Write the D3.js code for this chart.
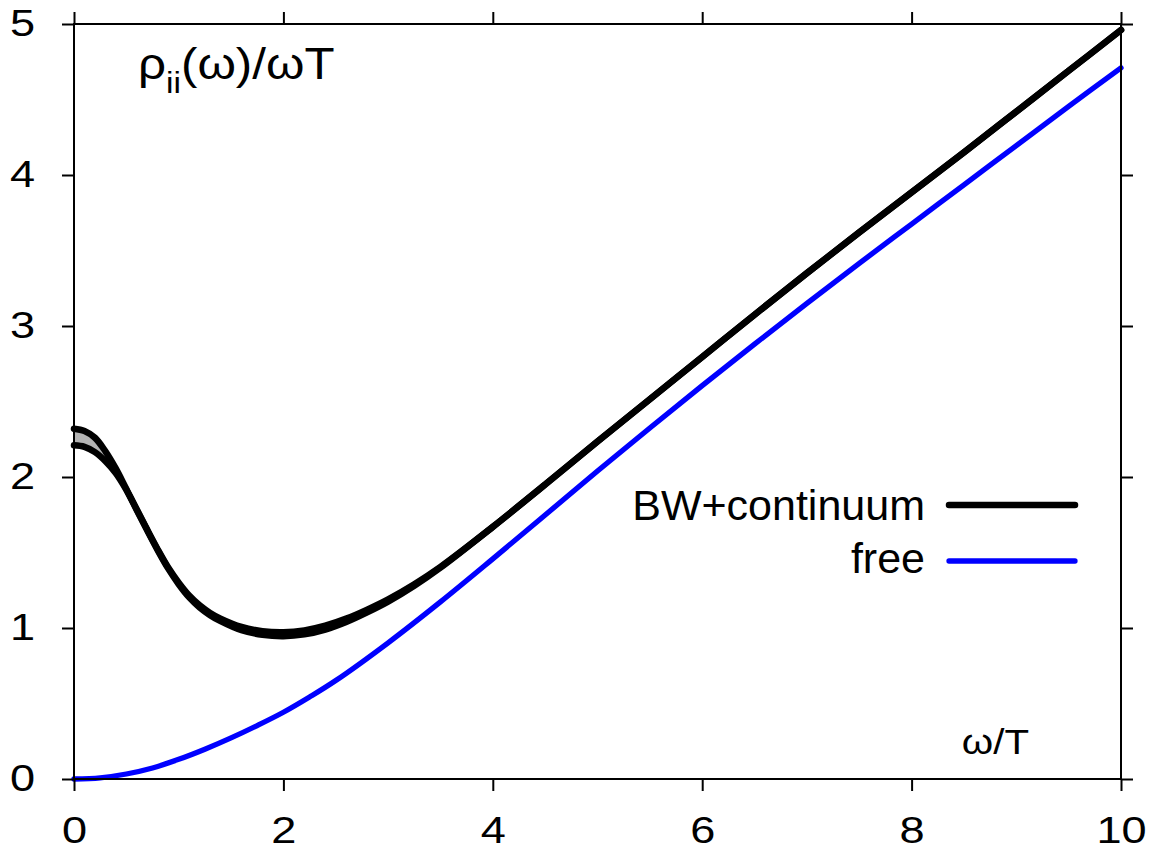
<!DOCTYPE html>
<html>
<head>
<meta charset="utf-8">
<script src="https://cdn.jsdelivr.net/npm/d3@7"></script>
<style>
  html, body { margin: 0; padding: 0; background: #fff; }
  svg { display: block; }
  text { font-family: "Liberation Sans", Arial, sans-serif; fill: #000; }
</style>
</head>
<body>
<svg id="chart" width="1151" height="851"></svg>
<script>
// ---- data ----
const bwX     = [0, 0.1, 0.2, 0.3, 0.4, 0.5, 0.6, 0.7, 0.8, 0.9, 1.0, 1.1, 1.2, 1.3, 1.4, 1.6, 1.8, 2.0, 2.2, 2.4, 2.6, 2.8, 3.0, 3.25, 3.5, 4.0, 4.5, 5.0, 5.5, 6.0, 6.5, 7.0, 7.5, 8.0, 8.5, 9.0, 9.5, 10];
const bwUpper = [2.32, 2.305, 2.26, 2.17, 2.055, 1.92, 1.785, 1.65, 1.52, 1.40, 1.30, 1.215, 1.15, 1.10, 1.062, 1.007, 0.979, 0.972, 0.984, 1.015, 1.062, 1.122, 1.19, 1.29, 1.405, 1.67, 1.95, 2.235, 2.515, 2.795, 3.075, 3.35, 3.62, 3.885, 4.15, 4.42, 4.69, 4.96];
const bwLower = [2.21, 2.20, 2.165, 2.105, 2.025, 1.915, 1.78, 1.645, 1.514, 1.393, 1.29, 1.203, 1.136, 1.085, 1.045, 0.985, 0.955, 0.946, 0.958, 0.99, 1.04, 1.104, 1.175, 1.28, 1.40, 1.67, 1.95, 2.235, 2.515, 2.795, 3.075, 3.35, 3.62, 3.885, 4.15, 4.42, 4.69, 4.96];
const freeX   = [0, 0.25, 0.5, 0.75, 1.0, 1.25, 1.5, 1.75, 2.0, 2.25, 2.5, 3.0, 3.5, 4.0, 4.5, 5.0, 5.5, 6.0, 6.5, 7.0, 7.5, 8.0, 8.5, 9.0, 9.5, 10];
const freeY   = [0, 0.008, 0.033, 0.073, 0.13, 0.197, 0.272, 0.354, 0.442, 0.543, 0.652, 0.902, 1.173, 1.458, 1.748, 2.04, 2.325, 2.605, 2.88, 3.15, 3.415, 3.675, 3.935, 4.195, 4.455, 4.71];
const xTicks  = [0, 2, 4, 6, 8, 10];
const yTicks  = [0, 1, 2, 3, 4, 5];
const seriesNames = ["BW+continuum", "free"];
const seriesColors = ["#000000", "#0000ff"];

// ---- layout ----
const svg = d3.select("#chart");
const L = 74, R = 1121, T = 24, B = 779;
const x = d3.scaleLinear().domain([0, 10]).range([L, R]);
const y = d3.scaleLinear().domain([0, 5]).range([B, T]);

const bw = bwX.map((v, i) => ({x: v, hi: bwUpper[i], lo: bwLower[i]}));
const fr = freeX.map((v, i) => ({x: v, y: freeY[i]}));
const curve = d3.curveCatmullRom.alpha(0.5);

// band
svg.append("path").datum(bw)
  .attr("d", d3.area().curve(curve).x(d => x(d.x)).y0(d => y(d.lo)).y1(d => y(d.hi)))
  .attr("fill", "#b3b3b3");

const lineHi = d3.line().curve(curve).x(d => x(d.x)).y(d => y(d.hi));
const lineLo = d3.line().curve(curve).x(d => x(d.x)).y(d => y(d.lo));
const lineFr = d3.line().curve(curve).x(d => x(d.x)).y(d => y(d.y));

svg.append("path").datum(fr).attr("d", lineFr)
  .attr("fill", "none").attr("stroke", seriesColors[1]).attr("stroke-width", 5.3)
  .attr("stroke-linecap", "round").attr("stroke-linejoin", "round");
[lineHi, lineLo].forEach(l => {
  svg.append("path").datum(bw).attr("d", l)
    .attr("fill", "none").attr("stroke", seriesColors[0]).attr("stroke-width", 6.5)
    .attr("stroke-linecap", "round").attr("stroke-linejoin", "round");
});

// axes
const fmt = d3.format("d");
function styleAxis(g) {
  g.select(".domain").remove();
  g.selectAll(".tick line").attr("stroke", "#000").attr("stroke-width", 2);
  g.selectAll(".tick text").attr("font-family", "Liberation Sans, Arial, sans-serif").attr("font-size", 37).attr("fill", "#000");
}
svg.append("g").attr("transform", `translate(0,${B})`)
  .call(d3.axisBottom(x).tickValues(xTicks).tickFormat(fmt).tickSize(12).tickPadding(26).tickSizeOuter(0))
  .call(styleAxis)
  .call(g => g.selectAll(".tick text").each(function() {
    const t = d3.select(this);
    const yy = +t.attr("y");
    t.attr("y", 0).attr("transform", `translate(0,${yy}) scale(1.22,1)`);
  }));
svg.append("g").attr("transform", `translate(${L},0)`)
  .call(d3.axisLeft(y).tickValues(yTicks).tickFormat(fmt).tickSize(12).tickPadding(27).tickSizeOuter(0))
  .call(styleAxis)
  .call(g => g.selectAll(".tick text").attr("x", 0).attr("transform", "translate(-39,0) scale(1.22,1)"));
svg.append("g").attr("transform", `translate(0,${T})`)
  .call(d3.axisTop(x).tickValues(xTicks).tickSize(12).tickFormat("").tickSizeOuter(0))
  .call(styleAxis);
svg.append("g").attr("transform", `translate(${R},0)`)
  .call(d3.axisRight(y).tickValues(yTicks).tickSize(12).tickFormat("").tickSizeOuter(0))
  .call(styleAxis);

svg.append("rect").attr("x", L).attr("y", T).attr("width", R - L).attr("height", B - T)
  .attr("fill", "none").attr("stroke", "#000").attr("stroke-width", 2);

// title
const title = svg.append("text").attr("transform", "translate(138,79) scale(1.12,1)").attr("font-size", 44);
title.append("tspan").text("ρ");
title.append("tspan").attr("font-size", 30).attr("dy", 14).text("ii");
title.append("tspan").attr("dy", -14).text("(ω)/ωT");

// x label
svg.append("text").attr("transform", "translate(1029,754) scale(1.15,1)").attr("text-anchor", "end")
  .attr("font-size", 35).text("ω/T");

// legend
const legY = [505, 561];
const legTextY = [520, 573];
seriesNames.forEach((n, i) => {
  svg.append("text").attr("x", 925).attr("y", legTextY[i]).attr("text-anchor", "end")
    .attr("font-size", 43).text(n);
  svg.append("line").attr("x1", 949).attr("x2", 1075).attr("y1", legY[i]).attr("y2", legY[i])
    .attr("stroke", seriesColors[i]).attr("stroke-width", i === 0 ? 6.5 : 5.3)
    .attr("stroke-linecap", "round");
});
</script>
</body>
</html>
